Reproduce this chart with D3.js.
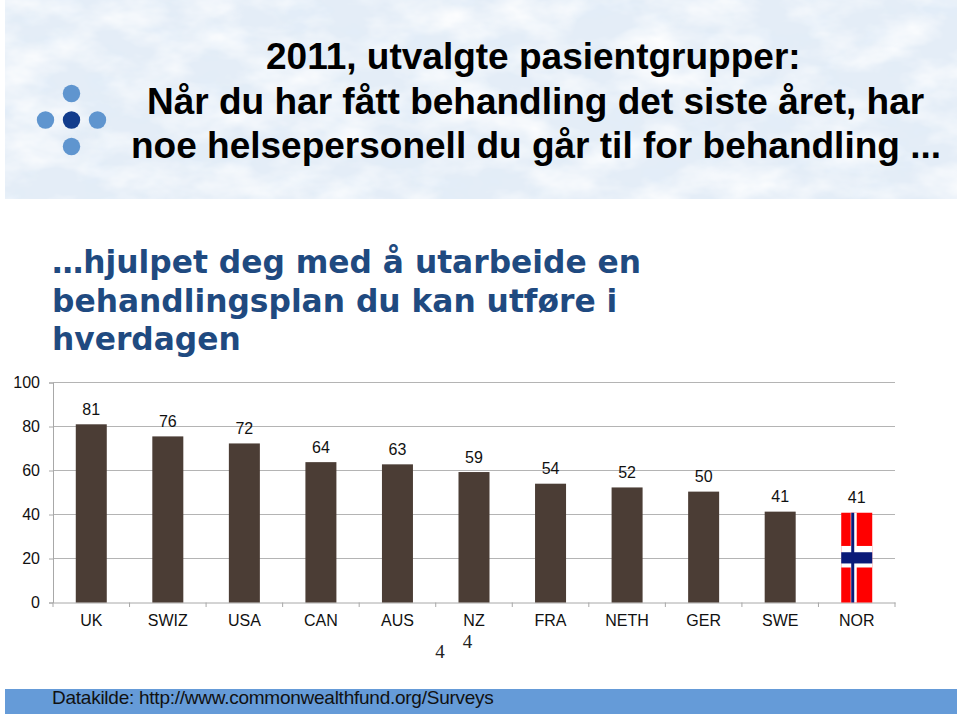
<!DOCTYPE html>
<html>
<head>
<meta charset="utf-8">
<script src="https://cdn.jsdelivr.net/npm/d3@7"></script>
<style>
html, body { margin: 0; padding: 0; background: #fff; }
svg { display: block; }
</style>
</head>
<body>
<div id="canvas"></div>
<script>
const countries = ["UK", "SWIZ", "USA", "CAN", "AUS", "NZ", "FRA", "NETH", "GER", "SWE", "NOR"];
const values = [81, 76, 72, 64, 63, 59, 54, 52, 50, 41, 41];
// the bars sit a bit off the printed label in the original
const barValues = [81, 75.5, 72.3, 63.8, 62.8, 59.3, 54, 52.3, 50.4, 41.3, 40.8];
const yTicks = [0, 20, 40, 60, 80, 100];
const titleLines = ["2011, utvalgte pasientgrupper:", "Når du har fått behandling det siste året, har", "noe helsepersonell du går til for behandling ..."];
const subLines = ["…hjulpet deg med å utarbeide en", "behandlingsplan du kan utføre i", "hverdagen"];
const logoDots = [[0, -1, "#5f95cf"], [-1, 0, "#5f95cf"], [0, 0, "#123c8c"], [1, 0, "#5f95cf"], [0, 1, "#5f95cf"]];

const w = 960, h = 716;
const titleX = [266, 147, 131];
const svg = d3.select("#canvas").append("svg")
    .attr("width", w)
    .attr("height", h)
    .attr("viewBox", [0, 0, w, h]);

// header band, icy texture from two noise layers
const defs = svg.append("defs");
const white = defs.append("filter").attr("id", "iceWhite")
    .attr("x", 0).attr("y", 0).attr("width", "100%").attr("height", "100%");
white.append("feTurbulence").attr("type", "fractalNoise")
    .attr("baseFrequency", "0.016 0.03").attr("numOctaves", 4).attr("seed", 7);
white.append("feColorMatrix").attr("type", "matrix")
    .attr("values", "0 0 0 0 1  0 0 0 0 1  0 0 0 0 1  1.9 0 0 0 -0.75");
const blue = defs.append("filter").attr("id", "iceBlue")
    .attr("x", 0).attr("y", 0).attr("width", "100%").attr("height", "100%");
blue.append("feTurbulence").attr("type", "fractalNoise")
    .attr("baseFrequency", "0.025 0.04").attr("numOctaves", 5).attr("seed", 23);
blue.append("feColorMatrix").attr("type", "matrix")
    .attr("values", "0 0 0 0 0.76  0 0 0 0 0.85  0 0 0 0 0.94  0 2 0 0 -0.85");

const band = svg.append("g");
band.append("rect").attr("x", 5).attr("y", 0).attr("width", 952).attr("height", 199).attr("fill", "#e4edf7");
band.append("rect").attr("x", 5).attr("y", 0).attr("width", 952).attr("height", 199).attr("filter", "url(#iceBlue)");
band.append("rect").attr("x", 5).attr("y", 0).attr("width", 952).attr("height", 199).attr("filter", "url(#iceWhite)");

svg.append("g").selectAll("circle")
    .data(logoDots)
    .enter().append("circle")
        .attr("cx", d => 71.5 + d[0] * 26)
        .attr("cy", d => 120 + d[1] * 26.5)
        .attr("r", 8.7)
        .attr("fill", d => d[2]);

svg.append("g").selectAll("text")
    .data(titleLines)
    .enter().append("text")
        .attr("x", (d, i) => titleX[i])
        .attr("y", (d, i) => 69 + i * 44.5)
        .attr("font-family", "Liberation Sans")
        .attr("font-weight", "bold")
        .attr("font-size", 37)
        .attr("fill", "#000")
        .text(d => d);

svg.append("g").selectAll("text")
    .data(subLines)
    .enter().append("text")
        .attr("x", 52)
        .attr("y", (d, i) => 273 + i * 38.5)
        .attr("font-family", "DejaVu Sans")
        .attr("font-weight", "bold")
        .attr("font-size", 31.3)
        .attr("fill", "#1f4a80")
        .text(d => d);

// chart
const x = d3.scaleBand().domain(countries).range([53, 895]);
const y = d3.scaleLinear().domain([0, 100]).range([602.5, 382.5]);
const barW = 31;

svg.append("g").selectAll("line")
    .data(yTicks.slice(1))
    .enter().append("line")
        .attr("x1", 53)
        .attr("x2", 895)
        .attr("y1", d => y(d))
        .attr("y2", d => y(d))
        .attr("stroke", "#b4b4b4");

const yAxis = d3.axisLeft(y).tickValues(yTicks).tickSize(4).tickPadding(9);
const gY = svg.append("g").attr("transform", "translate(53,0)").call(yAxis);
gY.select(".domain").attr("stroke", "#a8a8a8");
gY.selectAll("line").attr("stroke", "#a8a8a8");
gY.selectAll("text").attr("font-family", "Liberation Sans").attr("font-size", 16).attr("fill", "#111");

const xAxis = d3.axisBottom(x).tickSize(0).tickPadding(12);
const gX = svg.append("g").attr("transform", "translate(0,602.5)").call(xAxis);
gX.select(".domain").attr("stroke", "#a8a8a8");
gX.selectAll("text").attr("font-family", "Liberation Sans").attr("font-size", 16).attr("fill", "#111");

svg.append("g").selectAll("line")
    .data(countries.concat("end"))
    .enter().append("line")
        .attr("x1", (d, i) => i < countries.length ? x(d) : x.range()[1])
        .attr("x2", (d, i) => i < countries.length ? x(d) : x.range()[1])
        .attr("y1", 602.5)
        .attr("y2", 607)
        .attr("stroke", "#a8a8a8");

svg.append("g").selectAll("rect")
    .data(countries.slice(0, 10))
    .enter().append("rect")
        .attr("x", d => x(d) + x.bandwidth() / 2 - barW / 2)
        .attr("y", (d, i) => y(barValues[i]))
        .attr("width", barW)
        .attr("height", (d, i) => y(0) - y(barValues[i]))
        .attr("fill", "#4b3d35");

// Norway's bar is painted as the flag
const norX = x("NOR") + x.bandwidth() / 2 - barW / 2;
const norTop = y(barValues[10]);
const norH = y(0) - norTop;
const flag = svg.append("g").attr("transform", "translate(" + norX + "," + norTop + ")");
flag.append("rect").attr("width", barW).attr("height", norH).attr("fill", "#ff0000");
flag.append("rect").attr("x", 9.5).attr("width", 6).attr("height", norH).attr("fill", "#fff");
flag.append("rect").attr("y", norH * 0.37).attr("width", barW).attr("height", norH * 0.24).attr("fill", "#fff");
flag.append("rect").attr("x", 10).attr("width", 3).attr("height", norH).attr("fill", "#0a1a78");
flag.append("rect").attr("y", norH * 0.44).attr("width", barW).attr("height", norH * 0.125).attr("fill", "#0a1a78");

svg.append("g").selectAll("text")
    .data(values)
    .enter().append("text")
        .attr("x", (d, i) => x(countries[i]) + x.bandwidth() / 2)
        .attr("y", (d, i) => y(barValues[i]) - 9.5)
        .attr("text-anchor", "middle")
        .attr("font-family", "Liberation Sans")
        .attr("font-size", 16)
        .attr("fill", "#111")
        .text(d => d);

// stray footnote digits
svg.append("text").attr("x", 440).attr("y", 658).attr("text-anchor", "middle")
    .attr("font-family", "Liberation Serif").attr("font-size", 19).attr("fill", "#222").text("4");
svg.append("text").attr("x", 467.5).attr("y", 648).attr("text-anchor", "middle")
    .attr("font-family", "Liberation Serif").attr("font-size", 19).attr("fill", "#222").text("4");

// footer
svg.append("rect").attr("x", 5).attr("y", 689).attr("width", 952).attr("height", 25).attr("fill", "#659bd8");
svg.append("text").attr("x", 52).attr("y", 704)
    .attr("font-family", "Liberation Sans").attr("font-size", 19).attr("letter-spacing", -0.25).attr("fill", "#111")
    .text("Datakilde: http://www.commonwealthfund.org/Surveys");
</script>
</body>
</html>
